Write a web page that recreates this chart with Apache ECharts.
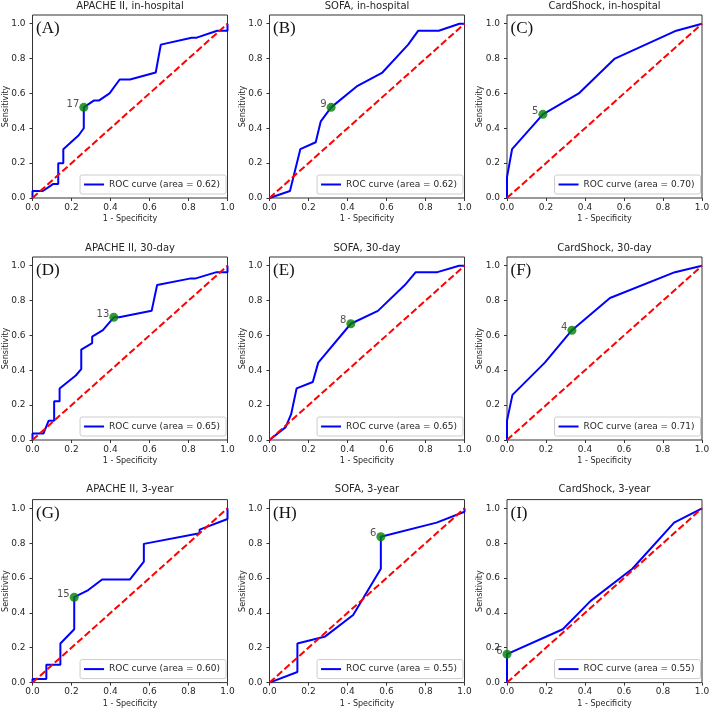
<!DOCTYPE html>
<html><head><meta charset="utf-8">
<script src="https://cdn.jsdelivr.net/npm/echarts@6/dist/echarts.min.js"></script>
<style>html,body{margin:0;padding:0;background:#fff}#c{width:709px;height:709px}</style>
</head><body><div id="c"></div><script>
// ---- data ----
const titles = ['APACHE II, in-hospital','SOFA, in-hospital','CardShock, in-hospital',
                'APACHE II, 30-day','SOFA, 30-day','CardShock, 30-day',
                'APACHE II, 3-year','SOFA, 3-year','CardShock, 3-year'];
const letters = ['(A)','(B)','(C)','(D)','(E)','(F)','(G)','(H)','(I)'];
const aucValues = ['0.62','0.62','0.70','0.65','0.65','0.71','0.60','0.55','0.55'];
const tickValues = [0, 0.2, 0.4, 0.6, 0.8, 1.0];

const fprA = [0,0,0.053,0.105,0.132,0.132,0.158,0.158,0.237,0.263,0.263,0.316,0.342,0.395,0.447,0.5,0.632,0.658,0.816,0.842,0.947,1,1];
const tprA = [0,0.04,0.04,0.08,0.08,0.2,0.2,0.28,0.36,0.4,0.52,0.56,0.56,0.6,0.68,0.68,0.72,0.88,0.92,0.92,0.96,0.96,1];
const fprB = [0,0.105,0.158,0.237,0.263,0.316,0.447,0.579,0.711,0.763,0.868,0.974,1];
const tprB = [0,0.04,0.28,0.32,0.44,0.52,0.64,0.72,0.88,0.96,0.96,1,1];
const fprC = [0,0,0.026,0.184,0.368,0.553,0.868,1];
const tprC = [0,0.12,0.28,0.48,0.6,0.8,0.96,1];
const fprD = [0,0,0.056,0.083,0.111,0.111,0.139,0.139,0.222,0.25,0.25,0.306,0.306,0.361,0.417,0.444,0.611,0.639,0.806,0.833,0.944,1,1];
const tprD = [0,0.037,0.037,0.111,0.111,0.222,0.222,0.296,0.37,0.407,0.519,0.556,0.593,0.63,0.704,0.704,0.741,0.889,0.926,0.926,0.963,0.963,1];
const fprE = [0,0.083,0.111,0.139,0.222,0.25,0.417,0.556,0.694,0.75,0.861,0.972,1];
const tprE = [0,0.074,0.148,0.296,0.333,0.444,0.667,0.741,0.889,0.963,0.963,1,1];
const fprF = [0,0,0.028,0.194,0.333,0.528,0.861,1];
const tprF = [0,0.111,0.259,0.444,0.63,0.815,0.963,1];
const fprG = [0,0,0.071,0.071,0.143,0.143,0.214,0.214,0.286,0.357,0.5,0.571,0.571,0.857,0.857,1,1];
const tprG = [0,0.02,0.02,0.102,0.102,0.224,0.306,0.49,0.531,0.592,0.592,0.694,0.796,0.857,0.878,0.939,1];
const fprH = [0,0.143,0.143,0.286,0.429,0.571,0.571,0.857,1,1];
const tprH = [0,0.061,0.224,0.265,0.388,0.653,0.837,0.918,0.98,1];
const fprI = [0,0,0.286,0.429,0.643,0.857,1];
const tprI = [0,0.163,0.306,0.469,0.653,0.918,1];

const cutFpr = [0.263,0.316,0.184,0.417,0.417,0.333,0.214,0.571,0];
const cutTpr = [0.52,0.52,0.48,0.704,0.667,0.63,0.49,0.837,0.163];
const cutLabels = ['17','9','5','13','8','4','15','6','6'];
const diagX = [0,1];
const diagY = [0,1];

const fprs = [fprA,fprB,fprC,fprD,fprE,fprF,fprG,fprH,fprI];
const tprs = [tprA,tprB,tprC,tprD,tprE,tprF,tprG,tprH,tprI];

// ---- layout ----
const W = 709;
const colLeft = [32.5, 269.5, 507];
const rowTop = [15, 257, 499.6];
const gw = 195, gh = 183;
const titleTop = [1, 243, 484];
const FONT = 'DejaVu Sans';
const TXT = '#262626';

const grids=[], xAxes=[], yAxes=[], series=[], legends=[], graphics=[];
const pair = (xs, ys) => xs.map((x,k)=>[x, ys[k]]);
const fmt = v => Number(v).toFixed(1);

for (let i=0;i<9;i++){
  const r = Math.floor(i/3), c = i%3;
  const L = colLeft[c], T = rowTop[r];
  grids.push({left:L, top:T, width:gw, height:gh, show:true, borderColor:'#333', borderWidth:1,
              backgroundColor:'transparent', containLabel:false, outerBoundsMode:'none'});
  xAxes.push({type:'value', gridIndex:i, min:0, max:1, interval:0.2,
    name:'1 - Specificity', nameLocation:'middle', nameGap:17, nameMoveOverlap:false,
    nameTextStyle:{fontSize:8, color:TXT, fontFamily:FONT},
    axisLine:{show:false}, splitLine:{show:false},
    axisTick:{show:true, length:3, lineStyle:{color:'#333'}},
    axisLabel:{fontSize:9, color:TXT, fontFamily:FONT, margin:5, formatter:fmt, showMinLabel:true, showMaxLabel:true}});
  yAxes.push({type:'value', gridIndex:i, min:0, max:1.05,
    name:'Sensitivity', nameLocation:'middle', nameGap:23, nameRotate:90, nameMoveOverlap:false,
    nameTextStyle:{fontSize:8, color:TXT, fontFamily:FONT},
    axisLine:{show:false}, splitLine:{show:false},
    axisTick:{show:true, length:3, customValues:tickValues, lineStyle:{color:'#333'}},
    axisLabel:{fontSize:9, color:TXT, fontFamily:FONT, margin:7, customValues:tickValues, formatter:fmt}});
  const name = 'ROC curve (area = ' + aucValues[i] + ')';
  series.push({type:'line', name:name, xAxisIndex:i, yAxisIndex:i, data:pair(fprs[i], tprs[i]),
    symbol:'none', lineStyle:{color:'#0000ff', width:2}, itemStyle:{color:'#0000ff'}, z:2, animation:false});
  series.push({type:'line', name:'diag'+i, xAxisIndex:i, yAxisIndex:i, data:pair(diagX, diagY),
    symbol:'none', lineStyle:{color:'#ff0000', width:2, type:[7,3]}, z:3, animation:false, silent:true});
  series.push({type:'scatter', name:'cut'+i, xAxisIndex:i, yAxisIndex:i,
    data:[{value:[cutFpr[i], cutTpr[i]], name:cutLabels[i]}],
    symbolSize:9, itemStyle:{color:'#008000'}, z:4, animation:false, silent:true,
    label:{show:true, position:'left', distance:0, offset:[0,-3], formatter:'{b}', fontSize:10, color:TXT, fontFamily:FONT}});
  legends.push({data:[{name:name, icon:'rect'}], right: W - (L+gw) + 1.5, top: T + gh - 23, orient:'horizontal',
    itemWidth:20, itemHeight:2, itemGap:0, padding:[4,6,4,4], borderColor:'#cccccc', borderWidth:1,
    borderRadius:2, backgroundColor:'#ffffff', selectedMode:false,
    itemStyle:{color:'#0000ff', borderWidth:0},
    textStyle:{fontSize:9, color:TXT, fontFamily:FONT, lineHeight:11}});
  graphics.push({type:'text', x:L+gw/2, y:titleTop[r], z:10,
    style:{text:titles[i], fill:TXT, font:'10px "DejaVu Sans"', textAlign:'center', textVerticalAlign:'top'}});
  graphics.push({type:'text', x:L+2.5, y:T+5.5, z:10,
    style:{text:letters[i], fill:'#111', font:'17px "Liberation Serif"', textAlign:'left', textVerticalAlign:'top',
           backgroundColor:'#ffffff', padding:[0,1]}});
}

const chart = echarts.init(document.getElementById('c'), null, {renderer:'canvas'});
chart.setOption({animation:false, grid:grids, xAxis:xAxes, yAxis:yAxes, series:series, legend:legends, graphic:graphics});
</script></body></html>
